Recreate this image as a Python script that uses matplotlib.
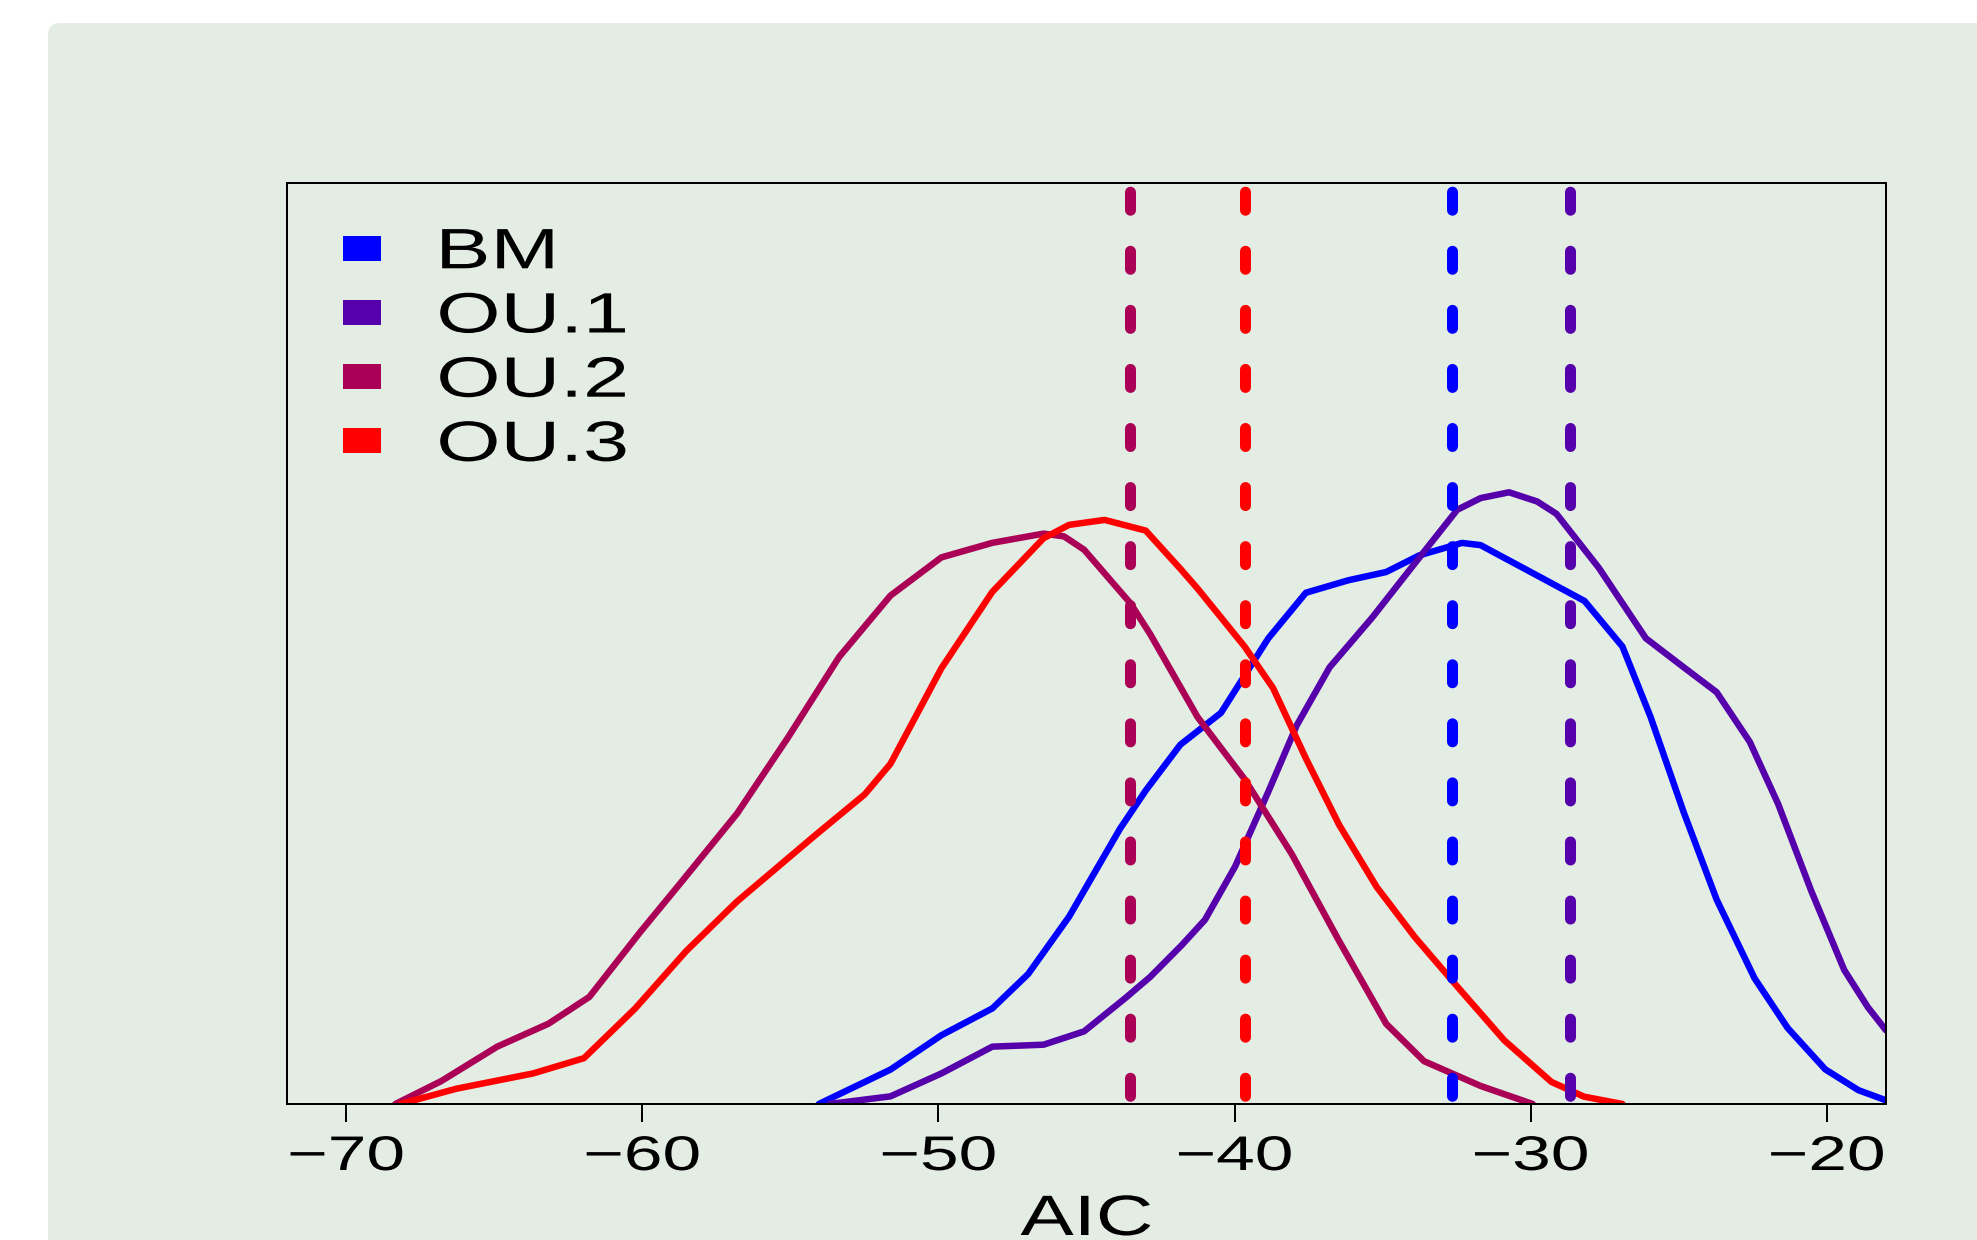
import matplotlib
matplotlib.use("Agg")
import matplotlib.pyplot as plt
from matplotlib.patches import FancyBboxPatch, Rectangle
from matplotlib.patheffects import AbstractPathEffect
from matplotlib.transforms import Affine2D, IdentityTransform

# ---------------- data ----------------
labels = ["BM", "OU.1", "OU.2", "OU.3"]
colors = ["#0000FF", "#5500AA", "#AA0055", "#FF0000"]

bm_x = [-54.04, -51.62, -49.90, -48.18, -46.97, -45.59, -43.87, -43.0, -41.83, -40.46,
        -38.86, -37.59, -36.15, -34.88, -33.76, -32.32, -31.69, -31.05, -29.61, -28.18,
        -26.90, -25.95, -24.83, -23.72, -22.44, -21.32, -20.05, -18.93, -18.0]
bm_y = [0.0, 0.0374, 0.0747, 0.1038, 0.1412, 0.2034, 0.2989, 0.3405, 0.3903, 0.4248,
        0.5058, 0.5553, 0.5689, 0.5778, 0.5959, 0.6094, 0.6070, 0.5959, 0.5711, 0.5463,
        0.4968, 0.4203, 0.3167, 0.2221, 0.1366, 0.0825, 0.0376, 0.0150, 0.0040]

ou1_x = [-53.69, -51.62, -49.90, -48.18, -46.45, -45.08, -43.69, -42.85, -41.8, -41.0,
         -39.98, -38.86, -37.90, -36.79, -35.35, -33.92, -32.48, -31.69, -30.73, -29.78,
         -29.13, -27.70, -26.11, -24.83, -23.72, -22.60, -21.64, -20.52, -19.41, -18.61, -18.0]
ou1_y = [0.0, 0.0083, 0.0332, 0.0623, 0.0644, 0.0789, 0.115, 0.138, 0.172, 0.200,
         0.258, 0.3392, 0.4113, 0.4743, 0.5284, 0.5869, 0.6454, 0.6581, 0.6644, 0.6544,
         0.641, 0.5824, 0.5058, 0.4743, 0.4473, 0.3933, 0.3257, 0.2311, 0.1455, 0.105, 0.080]

ou2_x = [-68.34, -66.79, -64.90, -63.17, -61.79, -60.07, -58.69, -56.80, -55.07, -53.35,
         -51.62, -49.90, -48.18, -46.45, -45.76, -45.08, -43.52, -42.85, -41.25, -39.66,
         -38.07, -36.47, -34.88, -33.60, -31.69, -29.93]
ou2_y = [0.0, 0.0249, 0.0623, 0.0872, 0.1163, 0.1868, 0.2408, 0.3155, 0.3986, 0.4857,
         0.5522, 0.5937, 0.6095, 0.6195, 0.6165, 0.602, 0.544, 0.5104, 0.4203, 0.3528,
         0.2716, 0.1771, 0.0871, 0.0465, 0.0196, 0.0]

ou3_x = [-68.17, -66.28, -63.69, -61.97, -60.24, -58.52, -56.80, -54.21, -52.49, -51.62,
         -49.90, -48.18, -46.45, -45.59, -44.39, -43.0, -41.83, -41.25, -39.66, -38.70,
         -37.59, -36.47, -35.20, -33.92, -32.48, -30.89, -29.30, -28.2, -26.90]
ou3_y = [0.0, 0.0166, 0.0332, 0.0498, 0.1038, 0.1661, 0.22, 0.2906, 0.3363, 0.3695,
         0.4733, 0.5563, 0.6145, 0.629, 0.6344, 0.6228, 0.5813, 0.5599, 0.4968, 0.4518,
         0.3753, 0.3033, 0.2357, 0.1816, 0.1276, 0.0691, 0.024, 0.008, 0.0]

series_x = [bm_x, ou1_x, ou2_x, ou3_x]
series_y = [bm_y, ou1_y, ou2_y, ou3_y]
mean_aic = [-32.66, -28.67, -43.52, -39.64]

xticks = [-70, -60, -50, -40, -30, -20]
xlim = (-72, -18)
ylim = (0, 1)
xlabel = "AIC"

# ---------------- styling helpers ----------------
W, H, DPI = 1977, 1240, 100
BG = "#e4ede4"


class HStretch(AbstractPathEffect):
    """Stretch glyph outlines horizontally (the reference image is widened)."""

    def __init__(self, sx, anchor="center"):
        super().__init__()
        self._sx = sx
        self._anchor = anchor

    def draw_path(self, renderer, gc, tpath, affine, rgbFace=None):
        ext = tpath.get_extents()
        cx = ext.x0 if self._anchor == "left" else 0.5 * (ext.x0 + ext.x1)
        t = Affine2D().translate(-cx, 0).scale(self._sx, 1).translate(cx, 0) + affine
        renderer.draw_path(gc, tpath, t, rgbFace)


plt.rcParams["font.family"] = ["Liberation Sans", "DejaVu Sans"]

fig = plt.figure(figsize=(W / DPI, H / DPI), dpi=DPI, facecolor="white")

# light green rounded panel behind everything
panel = FancyBboxPatch((48, -60), W + 60, (H - 23) + 60,
                       boxstyle="round,pad=0,rounding_size=12",
                       transform=IdentityTransform(), facecolor=BG,
                       edgecolor="none", zorder=-10)
fig.add_artist(panel)

ax_l, ax_r, ax_t, ax_b = 287, 1886, 183.3, 1104
ax = fig.add_axes([ax_l / W, 1 - ax_b / H, (ax_r - ax_l) / W, (ax_b - ax_t) / H])
ax.set_facecolor("none")

lw_curve = 6.5 * 72 / DPI
lw_dash = 11 * 72 / DPI
for xs, ys, c in zip(series_x, series_y, colors):
    ax.plot(xs, ys, color=c, lw=lw_curve, solid_capstyle="round",
            solid_joinstyle="round", zorder=2)

for m, c in zip(mean_aic, colors):
    ax.plot([m, m], [ylim[1], ylim[0]], color=c, lw=lw_dash,
            linestyle=(4.58, (1.64, 3.73)), dash_capstyle="round", zorder=3)

ax.set_xlim(*xlim)
ax.set_ylim(*ylim)
ax.set_xticks(xticks)
ax.set_yticks([])
for sp in ax.spines.values():
    sp.set_linewidth(2 * 72 / DPI)
    sp.set_color("black")
ax.tick_params(axis="x", length=18 * 72 / DPI, width=2 * 72 / DPI,
               pad=13 * 72 / DPI, labelsize=35, colors="black")
for tk in ax.xaxis.get_major_ticks():
    tk.label1.set_path_effects([HStretch(1.43)])

ax.set_xlabel(xlabel, fontsize=41, va="baseline")
ax.xaxis.set_label_coords(0.5, -(H - 5 - ax_b) / (ax_b - ax_t))
ax.xaxis.label.set_path_effects([HStretch(1.4)])

# legend (drawn as patches + text, stacked rows)
row0_center, row_step = 248.0, 64.2
for i, (lab, c) in enumerate(zip(labels, colors)):
    cy = row0_center + i * row_step
    fig.add_artist(Rectangle((343, H - (cy + 12.5)), 38, 25,
                             transform=IdentityTransform(), facecolor=c,
                             edgecolor="none", zorder=5))
    fig.text(437.5 / W, 1 - (cy + 20.3) / H, lab, fontsize=41, ha="left",
             va="baseline", color="black",
             path_effects=[HStretch(1.45, "left")], zorder=5)

fig.savefig("out.png", dpi=DPI, facecolor="white")
